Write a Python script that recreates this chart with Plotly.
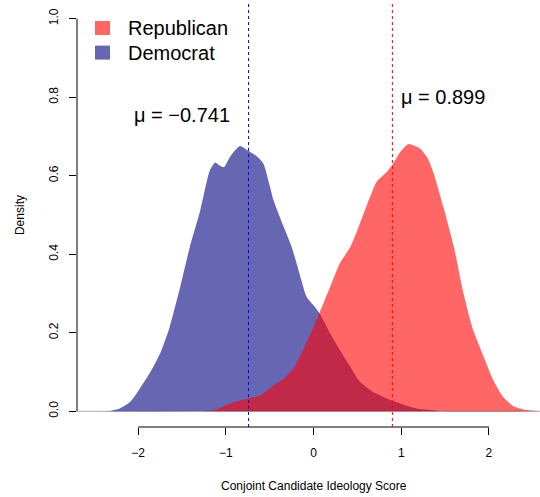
import plotly.graph_objects as go

# Density curves
dem_x = [-2.69, -2.32, -2.21, -2.09, -1.98, -1.86, -1.75, -1.64, -1.52, -1.41, -1.29, -1.18,
         -1.12, -1.07, -1.02, -0.95, -0.84, -0.74, -0.65, -0.57, -0.50, -0.46, -0.34, -0.25,
         -0.15, -0.08, 0.0, 0.07, 0.19, 0.30, 0.42, 0.53, 0.68, 0.84, 0.99, 1.18, 1.33, 1.45, 2.58]
dem_y = [0.0, 0.001, 0.007, 0.024, 0.058, 0.100, 0.147, 0.215, 0.317, 0.419, 0.513, 0.615,
         0.634, 0.626, 0.622, 0.649, 0.676, 0.663, 0.650, 0.630, 0.575, 0.540, 0.470, 0.419,
         0.343, 0.292, 0.270, 0.249, 0.198, 0.156, 0.113, 0.075, 0.049, 0.032, 0.020, 0.007, 0.003, 0.0, 0.0]

rep_x = [-2.69, -1.40, -1.15, -0.95, -0.74, -0.61, -0.50, -0.46, -0.34, -0.23, -0.12, 0.0,
         0.07, 0.19, 0.30, 0.42, 0.53, 0.63, 0.72, 0.84, 0.91, 0.99, 1.08, 1.21, 1.30, 1.37,
         1.48, 1.60, 1.71, 1.82, 1.94, 2.05, 2.16, 2.28, 2.43, 2.58]
rep_y = [0.0, 0.0, 0.002, 0.020, 0.033, 0.040, 0.058, 0.066, 0.083, 0.109, 0.156, 0.215,
         0.252, 0.317, 0.377, 0.419, 0.479, 0.538, 0.585, 0.611, 0.632, 0.661, 0.681, 0.670,
         0.645, 0.606, 0.521, 0.419, 0.300, 0.207, 0.139, 0.079, 0.037, 0.013, 0.003, 0.0]

dem_mean = -0.741
rep_mean = 0.899

x_ticks = [-2, -1, 0, 1, 2]
x_tick_labels = ["\u22122", "\u22121", "0", "1", "2"]
y_ticks = [0.0, 0.2, 0.4, 0.6, 0.8, 1.0]
y_tick_labels = ["0.0", "0.2", "0.4", "0.6", "0.8", "1.0"]

legend_labels = ["Republican", "Democrat"]
legend_colors = ["rgba(255,0,0,0.6)", "rgba(0,0,128,0.6)"]

FONT = "Liberation Sans, Arial, Helvetica, sans-serif"
XR = [-2.697, 2.582]
YR = [-0.04, 1.04]

fig = go.Figure()
fig.add_trace(go.Scatter(x=dem_x, y=dem_y, mode="lines", fill="tozeroy",
                         fillcolor="rgba(0,0,128,0.6)", line=dict(width=0, shape="spline", smoothing=0.6),
                         hoverinfo="skip", showlegend=False))
fig.add_trace(go.Scatter(x=rep_x, y=rep_y, mode="lines", fill="tozeroy",
                         fillcolor="rgba(255,0,0,0.6)", line=dict(width=0, shape="spline", smoothing=0.6),
                         hoverinfo="skip", showlegend=False))
# baseline
fig.add_trace(go.Scatter(x=XR, y=[0, 0], mode="lines", line=dict(color="rgba(0,0,0,0.3)", width=1),
                         hoverinfo="skip", showlegend=False))

shapes = [
    # axis lines (R style, only between extreme ticks)
    dict(type="line", xref="x", yref="paper", x0=x_ticks[0], x1=x_ticks[-1], y0=0, y1=0,
         line=dict(color="black", width=1)),
    dict(type="line", xref="paper", yref="y", x0=0, x1=0, y0=y_ticks[0], y1=y_ticks[-1],
         line=dict(color="black", width=1)),
    # mean lines
    dict(type="line", xref="x", yref="paper", x0=dem_mean, x1=dem_mean, y0=0, y1=1,
         line=dict(color="#0000FF", width=1, dash="3px,3px")),
    dict(type="line", xref="x", yref="paper", x0=rep_mean, x1=rep_mean, y0=0, y1=1,
         line=dict(color="#FF0000", width=1, dash="3px,3px")),
]

annotations = [
    dict(text="\u03bc = \u22120.741", x=-1.5, y=0.755, xref="x", yref="y", showarrow=False,
         font=dict(family=FONT, size=20, color="black"), xanchor="center", yanchor="middle"),
    dict(text="\u03bc = 0.899", x=1.48, y=0.80, xref="x", yref="y", showarrow=False,
         font=dict(family=FONT, size=20, color="black"), xanchor="center", yanchor="middle"),
    dict(text="Density", x=-0.123, y=0.5, xref="paper", yref="paper", showarrow=False,
         textangle=-90, font=dict(family=FONT, size=12, color="black"),
         xanchor="center", yanchor="middle"),
    dict(text="Conjoint Candidate Ideology Score", x=0, y=-0.139, xref="x", yref="paper",
         showarrow=False, font=dict(family=FONT, size=12, color="black"),
         xanchor="center", yanchor="middle"),
]

# legend (manual, R style)
leg_y = [0.941, 0.883]
for lab, col, yy in zip(legend_labels, legend_colors, leg_y):
    shapes.append(dict(type="rect", xref="paper", yref="paper",
                       x0=(95 - 77) / 463, x1=(110 - 77) / 463,
                       y0=yy - 7 / 424, y1=yy + 7 / 424,
                       fillcolor=col, line=dict(width=0)))
    annotations.append(dict(text=lab, x=(126 - 77) / 463, y=yy, xref="paper", yref="paper",
                            showarrow=False, xanchor="left", yanchor="middle",
                            font=dict(family=FONT, size=20, color="black")))

fig.update_layout(
    width=540, height=497,
    margin=dict(l=77, r=0, t=3, b=70),
    paper_bgcolor="white", plot_bgcolor="white",
    font=dict(family=FONT, size=12, color="black"),
    xaxis=dict(range=XR, showgrid=False, zeroline=False, showline=False,
               tickmode="array", tickvals=x_ticks, ticktext=x_tick_labels,
               ticks="outside", ticklen=7, tickcolor="black", tickwidth=1,
               ticklabelstandoff=8,
               tickfont=dict(family=FONT, size=12, color="black")),
    yaxis=dict(range=YR, showgrid=False, zeroline=False, showline=False,
               tickmode="array", tickvals=y_ticks, ticktext=y_tick_labels,
               ticks="outside", ticklen=7, tickcolor="black", tickwidth=1, tickangle=-90,
               ticklabelstandoff=6,
               tickfont=dict(family=FONT, size=12, color="black")),
    shapes=shapes, annotations=annotations, showlegend=False,
)

fig.write_html("out.html", config={"displayModeBar": False},
               post_script="document.body.style.margin='0px';")
